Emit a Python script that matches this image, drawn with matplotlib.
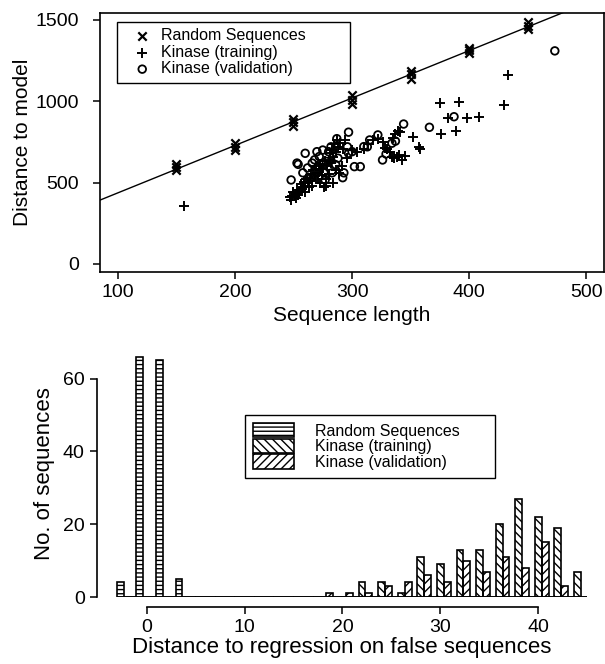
import numpy as np
import matplotlib
matplotlib.use('Agg')
import matplotlib.pyplot as plt

plt.rcParams['font.family'] = ['Liberation Sans', 'DejaVu Sans']
plt.rcParams['hatch.linewidth'] = 1.0

# ---- top panel data: distance to model vs sequence length ----
rand_len = [150, 150, 150, 200, 200, 200, 250, 250, 250, 300, 300, 300,
            350, 350, 350, 400, 400, 400, 450, 450, 450]
rand_dist = [575, 595, 615, 700, 720, 745, 850, 870, 890, 985, 1010, 1040,
             1140, 1165, 1185, 1295, 1315, 1330, 1445, 1465, 1485]

train_len = [157, 247, 249, 251, 252, 254, 250, 255, 257, 253, 258, 260, 256,
             262, 259, 261, 264, 263, 266, 268, 265, 270, 267, 272, 269, 271,
             274, 276, 278, 275, 273, 277, 280, 279, 282, 284, 281, 283, 286,
             288, 285, 290, 287, 292, 294, 289, 291, 286, 280, 278, 284, 296,
             300, 304, 310, 314, 318, 322, 326, 328, 330, 332, 334, 336, 338,
             340, 337, 339, 341, 343, 345, 335, 352, 357, 358, 376, 375, 391,
             389, 382, 398, 408, 430, 433, 260, 266, 273, 248, 252]
train_dist = [355, 410, 420, 415, 430, 425, 440, 445, 460, 455, 470, 480, 490,
              500, 505, 520, 530, 470, 510, 540, 555, 560, 575, 585, 600, 520,
              545, 470, 480, 590, 615, 630, 640, 600, 620, 655, 680, 700, 690,
              720, 735, 745, 760, 705, 760, 560, 600, 575, 550, 520, 500, 650,
              700, 690, 705, 740, 760, 770, 750, 715, 705, 690, 660, 650, 655,
              670, 800, 820, 810, 640, 665, 775, 778, 720, 705, 797, 990, 995,
              820, 900, 895, 905, 975, 1160, 440, 480, 500, 395, 405]

valid_len = [248, 253, 254, 258, 262, 266, 268, 270, 272, 275, 278, 280,
             283, 277, 286, 288, 292, 293, 296, 297, 300, 302, 307, 310, 313,
             315, 322, 326, 329, 334, 337, 344, 366, 387, 473, 260, 265, 282,
             287, 297, 276, 271]
valid_dist = [516, 620, 612, 560, 590, 620, 640, 690, 660, 700, 630, 690,
              560, 516, 610, 650, 530, 560, 720, 810, 690, 598, 598, 721, 720,
              762, 793, 639, 676, 742, 755, 860, 840, 905, 1310, 680, 530, 720,
              770, 680, 560, 600]

# ---- bottom panel data: histogram of distance to regression ----
bins = [-2, 0, 2, 4, 6, 8, 10, 12, 14, 16, 18, 20, 22, 24, 26, 28, 30, 32,
        34, 36, 38, 40, 42, 44]
n_random = [4, 66, 65, 5, 0, 0, 0, 0, 0, 0, 0, 0, 0, 0, 0, 0, 0, 0,
            0, 0, 0, 0, 0, 0]
n_train = [0, 0, 0, 0, 0, 0, 0, 0, 0, 0, 0, 0, 4, 4, 1, 11, 9, 13,
           13, 20, 27, 22, 19, 7]
n_valid = [0, 0, 0, 0, 0, 0, 0, 0, 0, 0, 1, 1, 1, 3, 4, 6, 4, 10,
           7, 11, 8, 15, 3, 0]

fig = plt.figure(figsize=(6.05, 6.64), dpi=100)

# top scatter
ax1 = fig.add_axes([0.1645, 0.5904, 0.8339, 0.3905])
ax1.scatter(rand_len, rand_dist, marker='x', s=36, c='black', linewidths=1.6,
            label='Random Sequences')
ax1.scatter(train_len, train_dist, marker='+', s=45, c='black', linewidths=1.4,
            label='Kinase (training)')
ax1.scatter(valid_len, valid_dist, marker='o', s=30, facecolors='none',
            edgecolors='black', linewidths=1.3, label='Kinase (validation)')

# regression line through the random sequences
slope, icpt = np.polyfit(rand_len, rand_dist, 1)
ax1.axline((0, icpt), slope=slope, color='black', lw=1.0)

ax1.set_xlim(84.5, 515)
ax1.set_ylim(-50, 1545)
ax1.set_xticks([100, 200, 300, 400, 500])
ax1.set_yticks([0, 500, 1000, 1500])
ax1.tick_params(direction='out', length=5, width=1.1, labelsize=14)
ax1.tick_params(axis='y', pad=10)
for s in ax1.spines.values():
    s.set_linewidth(1.2)
ax1.set_xlabel('Sequence length', fontsize=15, labelpad=4)
ax1.set_ylabel('Distance to model', fontsize=15, labelpad=2)
leg1 = ax1.legend(loc='upper left', bbox_to_anchor=(0.034, 0.5, 0.463, 0.465),
                  mode='expand', fancybox=False, edgecolor='black',
                  fontsize=11.5, handlelength=2.4, handletextpad=0.0,
                  labelspacing=0.1, borderpad=0.4, borderaxespad=0,
                  framealpha=1)
leg1.get_frame().set_linewidth(1.0)

# bottom grouped histogram
ax2 = fig.add_axes([0.1598, 0.1009, 0.8109, 0.3727])
b = np.array(bins)
w = 0.7
ax2.bar(b - w, n_random, width=w, fill=False, hatch='----', edgecolor='black',
        lw=1.2, label='Random Sequences')
ax2.bar(b, n_train, width=w, fill=False, hatch='\\\\\\\\', edgecolor='black',
        lw=1.2, label='Kinase (training)')
ax2.bar(b + w, n_valid, width=w, fill=False, hatch='////', edgecolor='black',
        lw=1.2, label='Kinase (validation)')
ax2.hlines(0, b[0] - 1.5 * w, b[-1] + 1.5 * w, color='black', lw=1.2)

ax2.set_xlim(-5.1, 45)
ax2.set_ylim(0, 68)
ax2.spines['top'].set_visible(False)
ax2.spines['right'].set_visible(False)
ax2.spines['left'].set_bounds(0, 60)
ax2.spines['bottom'].set_bounds(0, 40)
ax2.spines['bottom'].set_position(('outward', 7))
for s in ax2.spines.values():
    s.set_linewidth(1.2)
ax2.set_xticks([0, 10, 20, 30, 40])
ax2.set_yticks([0, 20, 40, 60])
ax2.tick_params(direction='out', length=5, width=1.1, labelsize=14)
ax2.set_xlabel('Distance to regression on false sequences', fontsize=16,
               labelpad=1)
ax2.set_ylabel('No. of sequences', fontsize=16, labelpad=6)
leg2 = ax2.legend(loc='upper left', bbox_to_anchor=(0.302, 0.3, 0.51, 0.435),
                  mode='expand', fancybox=False, edgecolor='black',
                  fontsize=11.5, handlelength=2.6, handleheight=1.0,
                  handletextpad=1.3, labelspacing=0.0, borderpad=0.5,
                  borderaxespad=0, framealpha=1)
leg2.get_frame().set_linewidth(1.0)

fig.savefig('out.png', dpi=100)
